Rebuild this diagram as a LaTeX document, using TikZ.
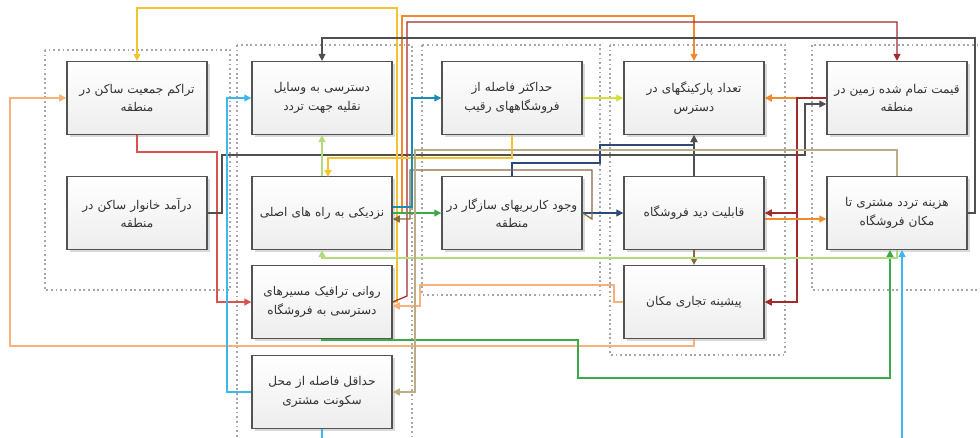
\documentclass[tikz,border=0pt]{standalone}
\usepackage{fontspec}
\newfontfamily\fa[Script=Arabic]{DejaVu Sans}
\TeXXeTstate=1
\usetikzlibrary{arrows.meta,shadows}

\definecolor{cOrange}{HTML}{F08A2C}
\definecolor{cPeach}{HTML}{F7B27A}
\definecolor{cYellow}{HTML}{F4C430}
\definecolor{cRed}{HTML}{D9534F}
\definecolor{cDarkRed}{HTML}{A32B2B}
\definecolor{cNavy}{HTML}{2E4A7A}
\definecolor{cTeal}{HTML}{1B8EB8}
\definecolor{cSky}{HTML}{3DB8EA}
\definecolor{cGreen}{HTML}{3DAA4A}
\definecolor{cLime}{HTML}{B5DA7E}
\definecolor{cChart}{HTML}{D4E03A}
\definecolor{cDark}{HTML}{505050}
\definecolor{cTan}{HTML}{BCAE84}
\definecolor{cBrown}{HTML}{8B6A3E}

\begin{document}
\begin{tikzpicture}[x=0.025cm, y=-0.025cm,
  box/.style={rectangle, draw=gray!65!black, line width=1pt,
              top color=white, bottom color=gray!14,
              minimum width=3.5cm, minimum height=1.82cm,
              inner xsep=2pt, text width=3.35cm, align=center, text=black!80,
              font=\fa\fontsize{8.6}{13}\selectfont,
              drop shadow={opacity=0.3, shadow xshift=2pt, shadow yshift=-2pt}},
  grp/.style={draw=gray!70, dotted, line width=1.3pt},
  link/.style={-{Triangle[length=5pt,width=5pt]}, line width=0.9pt}
]
  \useasboundingbox (0,0) rectangle (980,437);
  \clip (0,0) rectangle (980,437);

  % Groups
  \draw[grp] (45,50) rectangle (230,290);
  \draw[grp] (237,45) rectangle (412,460);
  \draw[grp] (422,45) rectangle (600,295);
  \draw[grp] (610,45) rectangle (785,355);
  \draw[grp] (812,45) rectangle (982,290);

  % Nodes
  \node[box] (tar)  at (137,98)  {\beginR تراکم جمعیت ساکن در\endR\\\beginR منطقه\endR};
  \node[box] (dar)  at (137,213) {\beginR درآمد خانوار ساکن در\endR\\\beginR منطقه\endR};
  \node[box] (das)  at (322,98)  {\beginR دسترسی به وسایل\endR\\\beginR نقلیه جهت تردد\endR};
  \node[box] (naz)  at (322,213) {\beginR نزدیکی به راه های اصلی\endR};
  \node[box] (rav)  at (322,302) {\beginR روانی ترافیک مسیرهای\endR\\\beginR دسترسی به فروشگاه\endR};
  \node[box] (hdq)  at (322,392) {\beginR حداقل فاصله از محل\endR\\\beginR سکونت مشتری\endR};
  \node[box] (hdk)  at (512,98)  {\beginR حداکثر فاصله از\endR\\\beginR فروشگاههای رقیب\endR};
  \node[box] (vjd)  at (512,213) {\beginR وجود کاربریهای سازگار در\endR\\\beginR منطقه\endR};
  \node[box] (par)  at (694,98)  {\beginR تعداد پارکینگهای در\endR\\\beginR دسترس\endR};
  \node[box] (did)  at (694,213) {\beginR قابلیت دید فروشگاه\endR};
  \node[box] (pish) at (694,302) {\beginR پیشینه تجاری مکان\endR};
  \node[box] (qim)  at (897,98)  {\beginR قیمت تمام شده زمین در\endR\\\beginR منطقه\endR};
  \node[box] (haz)  at (897,213) {\beginR هزینه تردد مشتری تا\endR\\\beginR مکان فروشگاه\endR};

  % Links
  \draw[link, cPeach]   (pish.south) -- (694,346) -- (10,346) -- (10,98) -- (tar.west);
  \draw[link, cRed]     (tar.south) -- (137,152) -- (217,152) -- (217,302) -- (rav.west);
  \draw[link, cDark]    (dar.east) -- (222,213) -- (222,155) -- (805,155) -- (805,104) -- (qim.west |- 805,104);
  \draw[link, cSky]     (hdq.west) -- (227,392) -- (227,98) -- (das.west);
  \draw[link, cYellow]  (rav.east) -- (397,302) -- (397,8) -- (137,8) -- (tar.north);
  \draw[link, cOrange]  (naz.east) -- (402,213) -- (402,16) -- (694,16) -- (par.north);
  \draw[link, cDarkRed] (rav.east) -- (407,296) -- (407,22) -- (897,22) -- (qim.north);
  \draw[link, cDark]    (haz.east) -- (975,213) -- (975,38) -- (322,38) -- (das.north);
  \draw[link, cNavy]    (vjd.north) -- (512,163) -- (600,163) -- (600,145) -- (694,145) -- (par.south);
  \draw[link, cDark]    (did.north) -- (par.south);
  \draw[link, cBrown]   (did.south) -- (pish.north);
  \draw[link, cOrange]  (qim.west) -- (par.east);
  \draw[link, cDarkRed] (qim.west) -- (797,98) -- (797,213) -- (did.east);
  \draw[link, cDarkRed] (797,213) -- (797,302) -- (pish.east);
  \draw[link, cOrange]  (did.east |- 780,219) -- (haz.west |- 780,219);
  \draw[link, cGreen]   (rav.south) -- (322,340) -- (578,340) -- (578,378) -- (890,378) -- (890,250);
  \draw[link, cSky]     (hdq.south) -- (322,450) -- (902,450) -- (902,250);
  \draw[link, cLime]    (haz.south) -- (897,258) -- (322,258) -- (naz.south);
  \draw[link, cLime]    (naz.north) -- (das.south);
  \draw[link, cYellow]  (hdk.south) -- (512,158) -- (328,158) -- (328,177);
  \draw[link, cChart]   (hdk.east) -- (par.west);
  \draw[link, cGreen]   (naz.east) -- (vjd.west);
  \draw[link, cNavy]    (vjd.east) -- (did.west);
  \draw[link, cBrown]   (vjd.east) -- (592,219) -- (592,170) -- (410,170) -- (410,219) -- (naz.east |- 410,219);
  \draw[link, cPeach]   (pish.west) -- (614,302) -- (614,285) -- (420,285) -- (420,306) -- (rav.east |- 420,306);
  \draw[link, cTan]     (haz.north) -- (897,150) -- (415,150) -- (415,392) -- (hdq.east);
  \draw[link, cTeal]    (naz.east |- 412,207) -- (412,207) -- (412,98) -- (hdk.west);
\end{tikzpicture}
\end{document}
